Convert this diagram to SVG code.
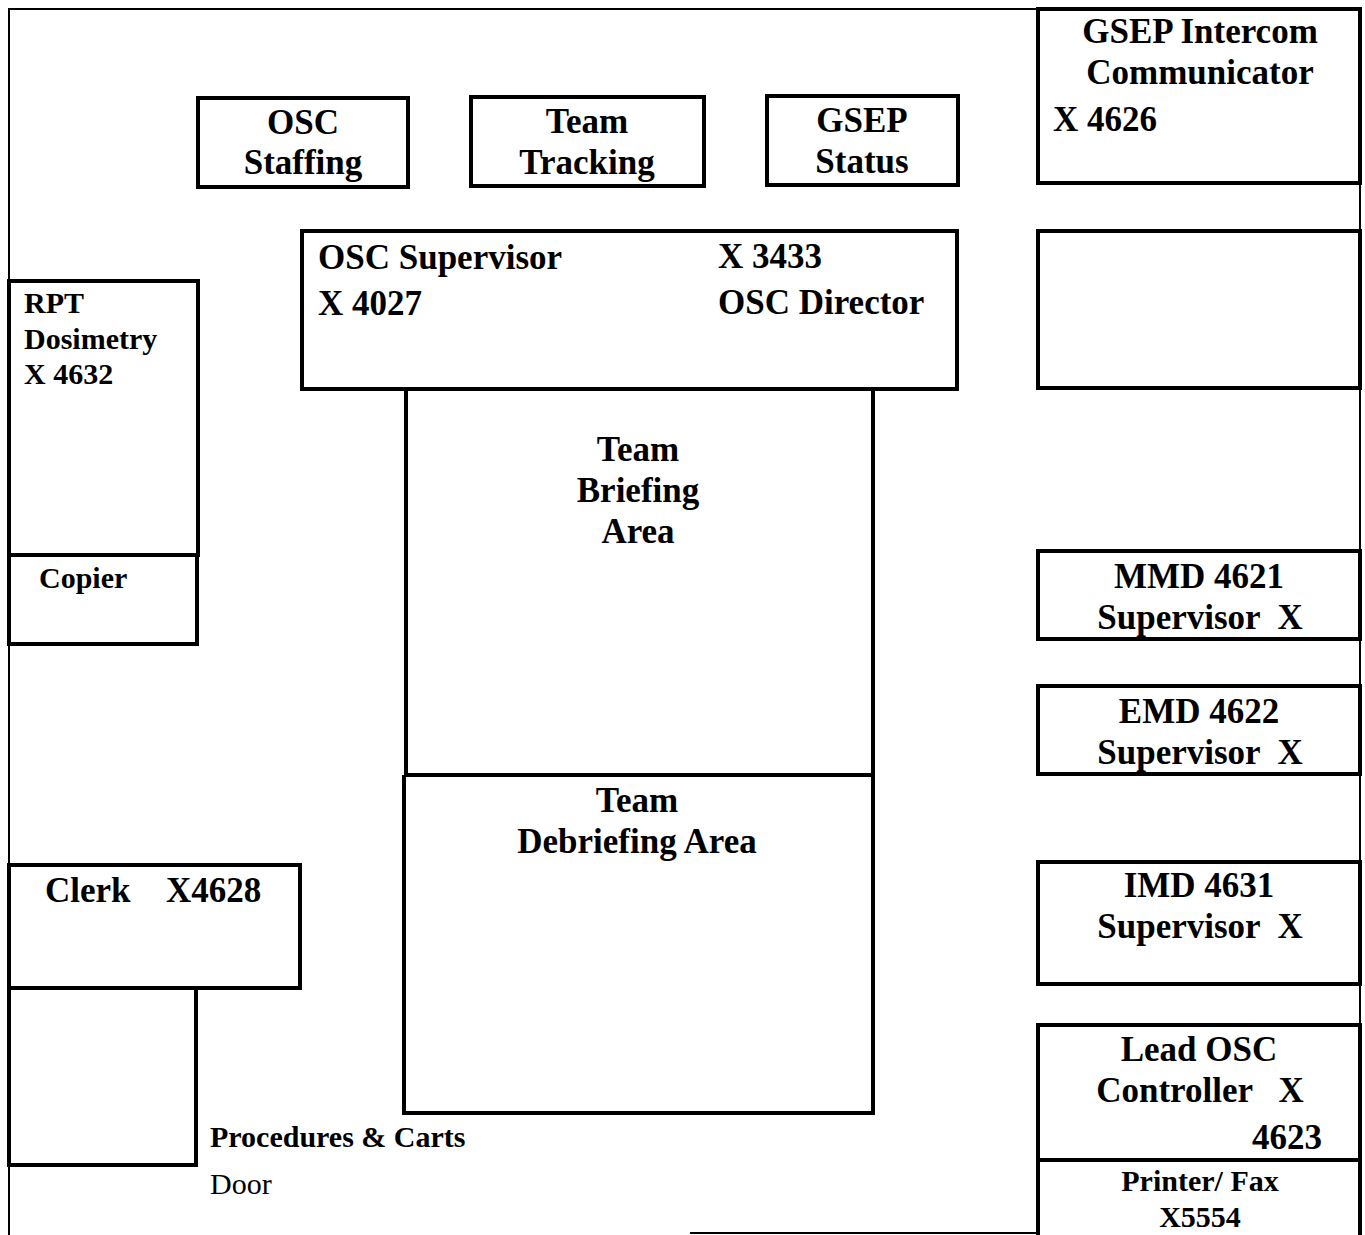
<svg xmlns="http://www.w3.org/2000/svg" width="1365" height="1235" viewBox="0 0 1365 1235">
<style>
.bg{fill:#fff}
.box{fill:none;stroke:#000;stroke-width:4}
.wall{fill:none;stroke:#000;stroke-width:2}
text{font-family:"Liberation Serif","Times New Roman",serif;font-weight:bold;fill:#000}
.l{font-size:35px}
.s{font-size:30px}
.m{text-anchor:middle}
.reg{font-weight:normal}
</style>
<rect class="bg" x="0" y="0" width="1365" height="1235"/>
<g id="walls">
<polyline class="wall" points="9,1235 9,9 1038,9"/>
<line class="wall" x1="690" y1="1233" x2="1038" y2="1233"/>
<line class="wall" x1="1360" y1="183" x2="1360" y2="1235"/>
</g>
<g id="osc-staffing">
<rect class="box" x="198" y="98" width="210" height="89"/>
<text class="l m" x="303" y="134">OSC</text>
<text class="l m" x="303" y="174">Staffing</text>
</g>
<g id="team-tracking">
<rect class="box" x="471" y="97" width="233" height="89"/>
<text class="l m" x="587" y="133">Team</text>
<text class="l m" x="587" y="174">Tracking</text>
</g>
<g id="gsep-status">
<rect class="box" x="767" y="96" width="191" height="89"/>
<text class="l m" x="862" y="132">GSEP</text>
<text class="l m" x="862" y="173">Status</text>
</g>
<g id="gsep-intercom">
<rect class="box" x="1038" y="9" width="322" height="174"/>
<text class="l m" x="1200" y="43">GSEP Intercom</text>
<text class="l m" x="1200" y="84">Communicator</text>
<text class="l" x="1053" y="131">X 4626</text>
</g>
<g id="empty-box">
<rect class="box" x="1038" y="231" width="322" height="157"/>
</g>
<g id="osc-supervisor">
<rect class="box" x="302" y="231" width="655" height="158"/>
<text class="l" x="318" y="269">OSC Supervisor</text>
<text class="l" x="318" y="315">X 4027</text>
<text class="l" x="718" y="268">X 3433</text>
<text class="l" x="718" y="314">OSC Director</text>
</g>
<g id="team-briefing">
<polyline class="box" points="406,389 406,775 873,775 873,389"/>
<text class="l m" x="638" y="461">Team</text>
<text class="l m" x="638" y="502">Briefing</text>
<text class="l m" x="638" y="543">Area</text>
</g>
<g id="team-debriefing">
<polyline class="box" points="404,775 404,1113 873,1113 873,775"/>
<text class="l m" x="637" y="812">Team</text>
<text class="l m" x="637" y="853">Debriefing Area</text>
</g>
<g id="rpt-dosimetry">
<rect class="box" x="9" y="281" width="189" height="274"/>
<text class="s" x="24" y="313">RPT</text>
<text class="s" x="24" y="349">Dosimetry</text>
<text class="s" x="24" y="384">X 4632</text>
</g>
<g id="copier">
<rect class="box" x="9" y="555" width="188" height="89"/>
<text class="s" x="39" y="588">Copier</text>
</g>
<g id="clerk">
<rect class="box" x="9" y="865" width="291" height="123"/>
<text class="l" x="45" y="902">Clerk</text>
<text class="l" x="166" y="902">X4628</text>
</g>
<g id="procedures-carts">
<rect class="box" x="9" y="988" width="187" height="177"/>
<text class="s" x="210" y="1147">Procedures &amp; Carts</text>
<text class="s reg" x="210" y="1194">Door</text>
</g>
<g id="mmd">
<rect class="box" x="1038" y="551" width="322" height="88"/>
<text class="l m" x="1199" y="588">MMD 4621</text>
<text class="l m" x="1200" y="629" xml:space="preserve">Supervisor  X</text>
</g>
<g id="emd">
<rect class="box" x="1038" y="686" width="322" height="88"/>
<text class="l m" x="1199" y="723">EMD 4622</text>
<text class="l m" x="1200" y="764" xml:space="preserve">Supervisor  X</text>
</g>
<g id="imd">
<rect class="box" x="1038" y="862" width="322" height="122"/>
<text class="l m" x="1199" y="897">IMD 4631</text>
<text class="l m" x="1200" y="938" xml:space="preserve">Supervisor  X</text>
</g>
<g id="lead-osc">
<polyline class="box" points="1038,1235 1038,1025 1360,1025 1360,1235"/>
<line class="box" x1="1038" y1="1160" x2="1360" y2="1160"/>
<text class="l m" x="1199" y="1061">Lead OSC</text>
<text class="l m" x="1200" y="1102" xml:space="preserve">Controller   X</text>
<text class="l" x="1322" y="1149" text-anchor="end">4623</text>
</g>
<g id="printer-fax">
<text class="s m" x="1200" y="1191">Printer/ Fax</text>
<text class="s m" x="1200" y="1227">X5554</text>
</g>
<g id="connectors"></g>
</svg>
